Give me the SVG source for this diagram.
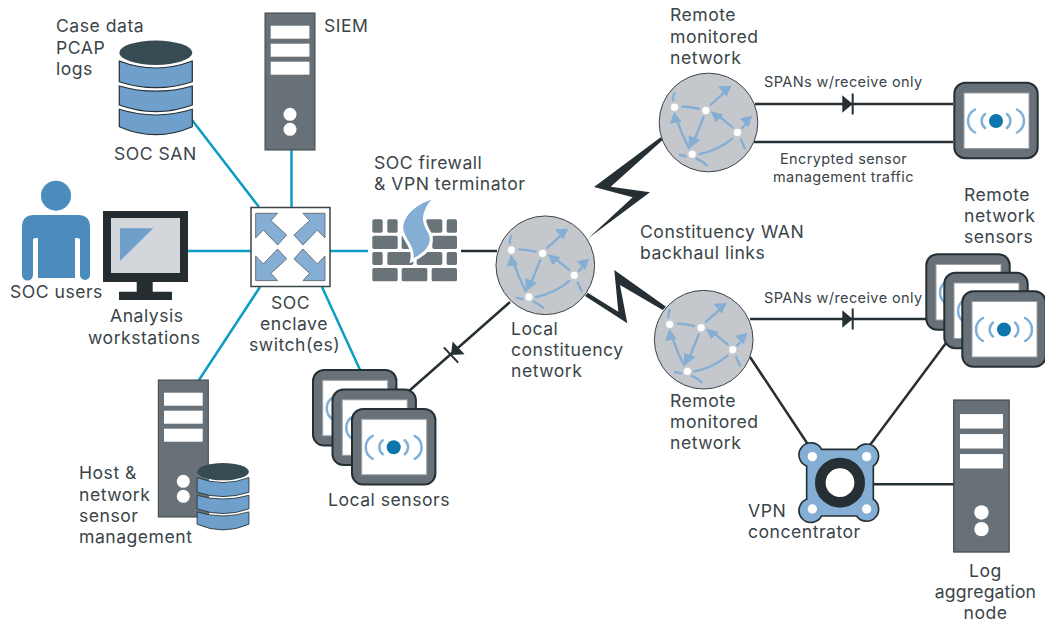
<svg xmlns="http://www.w3.org/2000/svg" width="1045" height="621" viewBox="0 0 1045 621">
<style>
text{font-family:"Inter","Liberation Sans",sans-serif;font-size:17.6px;letter-spacing:.5px;fill:#3a4449}
.s{font-size:14.500px;letter-spacing:.4px}
.blue{stroke:#0d9cc4;stroke-width:2.5;fill:none}
.dark{stroke:#263034;stroke-width:2.5;fill:none}
.bolt{fill:#263034}
.srv{fill:#687177;stroke:#3a4449;stroke-width:1}
.wh{fill:#fff}
.band{fill:#6fa0cb;stroke:#263034;stroke-width:1.2}
.arc{fill:none;stroke:#7fb0d8;stroke-width:2.5;stroke-linecap:round}
.nl{fill:none;stroke:#84aed4;stroke-width:7}
.na{fill:#84aed4}
.brick{fill:#6a7378}
.sw{fill:#84aed4;stroke:#6b7379;stroke-width:3}
</style>
<defs>
<g id="server">
<rect class="srv" width="50" height="137"/>
<rect class="wh" x="5.700" y="12.700" width="38.700" height="13"/>
<rect class="wh" x="5.700" y="30.700" width="38.700" height="13"/>
<rect class="wh" x="5.700" y="48.700" width="38.700" height="13"/>
<circle class="wh" cx="25" cy="101.300" r="6.500"/>
<circle class="wh" cx="25" cy="116.300" r="6.500"/>
</g>
<g id="db">
<path class="band" d="M-36.500 74V56.600Q0 68 36.500 56.600V74Q0 90 -36.500 74Z"/>
<path class="band" d="M-36.500 52.300V33.300Q0 43.700 36.500 33.300V52.300Q0 65.700 -36.500 52.300Z"/>
<path class="band" d="M-36.500 29V8.300Q0 22.300 36.500 8.300V29Q0 41 -36.500 29Z"/>
<ellipse cx="0" cy="0" rx="36.500" ry="12.200" fill="#364c52"/>
</g>
<g id="sensor">
<rect x="-41.700" y="-38.300" width="83.400" height="75.600" rx="11" fill="#687177" stroke="#263034" stroke-width="2"/>
<rect x="-32" y="-28" width="65" height="55.500" fill="#fff" stroke="#98a0a5" stroke-width="1"/>
<circle cx="0" cy="0" r="7" fill="#0f76ad"/>
<path class="arc" d="M-11 -7A9 9 0 0 0 -11 7M11 -7A9 9 0 0 1 11 7M-21 -11.500A13 13 0 0 0 -21 11.500M21 -11.500A13 13 0 0 1 21 11.500"/>
</g>
<g id="net" transform="scale(.3333) translate(-586 -286)">
<circle cx="586" cy="286" r="148" fill="#c4c7cb" stroke="#3a4449" stroke-width="3"/>
<g class="nl">
<path d="M485 195Q478 208 480 222"/>
<path d="M505 238Q535 238 560 246"/>
<path d="M590 235L635 195"/>
<path d="M572 268L543 340"/>
<path d="M528 365Q505 320 490 275"/>
<path d="M660 302L615 265"/>
<path d="M555 382Q615 370 660 332"/>
<path d="M685 305L705 283"/>
<path d="M682 335L696 366"/>
<path d="M497 382L520 388"/>
<path d="M548 393Q568 402 582 416"/>
</g>
<path class="na" d="M655 176L615 178L640 208Z"/>
<path class="na" d="M527 365L562 338L527 325Z"/>
<path class="na" d="M483 254L470 290L505 284Z"/>
<path class="na" d="M592 252L631 262L608 285Z"/>
<path class="na" d="M717 266L680 274L706 300Z"/>
<circle class="wh" cx="484" cy="240" r="11"/>
<circle class="wh" cx="578" cy="250" r="11"/>
<circle class="wh" cx="673" cy="316" r="11"/>
<circle class="wh" cx="537" cy="381" r="11"/>
</g>
<path id="diode" fill="#263034" d="M-10.400 -8.800L0 0L-10.400 8.800ZM-1 -10.500H1V10.500H-1Z"/>
<path id="swa" class="sw" d="M767 640L833 640L813 662L860 705L833 735L790 690L767 714Z"/>
</defs>
<g id="connectors">
<path class="blue" d="M192 120L259 207M291.500 150V207M187 251H251M330 251H368M260 287L199 380M322 287L361 372"/>
<path class="dark" d="M461 251H497M510 302L409 391M755 104H953M754 142H953M750 319H927M750 357L809 446M870 445L946 343M873 484.300H954"/>
<path id="bolt1" class="bolt" d="M660.700 137.300L594 187L632.700 197.300L588.300 238.300L650 192.300L610.700 186.700L662.700 140Z"/>
<path id="bolt2" class="bolt" d="M585 296L627.300 323.300L620 285L662.700 310L666 306.700L614.300 270L618.300 311.700L587.700 292.700Z"/>
<use href="#diode" x="852.700" y="104"/>
<use href="#diode" x="852.700" y="319"/>
<use href="#diode" transform="translate(451 355) rotate(137)"/>
</g>
<g id="san"><use href="#db" x="155.800" y="52.700"/></g>
<g id="siem"><use href="#server" x="265" y="13"/></g>
<g id="user">
<circle cx="56" cy="195.700" r="15" fill="#4b8cbc"/>
<path fill="#4b8cbc" d="M34 215H78Q90 215 90 227V275A5 5 0 0 1 80 275V240Q80 238 77 238H75V278H38V238H36Q33 238 33 240V275A5 5 0 0 1 22 275V227Q22 215 34 215Z"/>
</g>
<g id="workstation">
<rect x="103" y="211" width="85" height="71" fill="#252d31"/>
<rect x="111" y="218" width="69" height="55" fill="#d3d6da"/>
<path d="M120 228.300H153.300L120 261Z" fill="#6fa0cb"/>
<path d="M136.700 282H152.700V291.700H172V300H119V291.700H136.700Z" fill="#252d31"/>
</g>
<g id="switch">
<rect x="251" y="207.500" width="79" height="79" fill="#fff" stroke="#3a4449" stroke-width="1.500"/>
<g transform="scale(.3333)">
<use href="#swa"/>
<use href="#swa" transform="translate(1742 0) scale(-1 1)"/>
<use href="#swa" transform="translate(0 1482) scale(1 -1)"/>
<use href="#swa" transform="translate(1742 1482) scale(-1 -1)"/>
</g>
</g>
<g id="mgmt">
<use href="#server" x="158.300" y="380"/>
<g transform="translate(223 471.700) scale(.71)"><use href="#db"/></g>
</g>
<g id="firewall" transform="translate(350 170) scale(.3333)">
<rect class="brick" x="67" y="148" width="31" height="40" rx="5"/><rect class="brick" x="112" y="148" width="31" height="40" rx="5"/><rect class="brick" x="228" y="148" width="49" height="40" rx="5"/><rect class="brick" x="290" y="148" width="31" height="40" rx="5"/>
<rect class="brick" x="67" y="197" width="76" height="40" rx="5"/><rect class="brick" x="155" y="197" width="80" height="40" rx="5"/><rect class="brick" x="247" y="197" width="74" height="40" rx="5"/>
<rect class="brick" x="67" y="246" width="31" height="39" rx="5"/><rect class="brick" x="112" y="246" width="78" height="39" rx="5"/><rect class="brick" x="200" y="246" width="77" height="39" rx="5"/><rect class="brick" x="290" y="246" width="31" height="39" rx="5"/>
<rect class="brick" x="67" y="294" width="76" height="40" rx="5"/><rect class="brick" x="155" y="294" width="77" height="40" rx="5"/><rect class="brick" x="245" y="294" width="76" height="40" rx="5"/>
<path d="M258 80C205 95 160 125 155 170C152 205 195 225 185 272C225 255 255 225 240 190C225 165 205 135 258 80Z" fill="#84aed4" stroke="#fff" stroke-width="9"/>
</g>
<g id="local-net"><use href="#net" x="545.300" y="265.300"/></g>
<g id="remote-net-1"><use href="#net" x="708.500" y="122.500"/></g>
<g id="remote-net-2"><use href="#net" x="703.700" y="339.700"/></g>
<g id="local-sensors">
<use href="#sensor" x="354.700" y="408.300"/>
<use href="#sensor" x="374.200" y="427.800"/>
<use href="#sensor" x="393.700" y="447.300"/>
</g>
<g id="remote-sensor"><use href="#sensor" x="996" y="121"/></g>
<g id="remote-sensors">
<use href="#sensor" x="968" y="292.500"/>
<use href="#sensor" x="986" y="311"/>
<use href="#sensor" x="1004" y="329.500"/>
</g>
<g id="vpn" transform="translate(760 240) scale(.3333)">
<path d="M185 628H290A36 36 0 1 1 340 678V778A36 36 0 1 1 290 828H185A36 36 0 1 1 140 778V678A36 36 0 1 1 185 628Z" fill="#84aed4" stroke="#263034" stroke-width="5"/>
<circle class="wh" cx="157" cy="650" r="14"/><circle class="wh" cx="320" cy="650" r="14"/><circle class="wh" cx="157" cy="807" r="14"/><circle class="wh" cx="320" cy="807" r="14"/>
<circle cx="240" cy="728" r="59" fill="#fff" stroke="#263034" stroke-width="32"/>
</g>
<g id="log"><use href="#server" transform="translate(953.700 400) scale(1.11)"/></g>
<g id="labels">
<text x="56" y="32">Case data</text><text x="56" y="54">PCAP</text><text x="56" y="75">logs</text>
<text x="114" y="160">SOC SAN</text>
<text x="324" y="32">SIEM</text>
<text x="374" y="169">SOC firewall</text><text x="374" y="190">&amp; VPN terminator</text>
<text x="10" y="298">SOC users</text>
<text x="110" y="322">Analysis</text><text x="88" y="344">workstations</text>
<text x="271" y="309">SOC</text><text x="260" y="330">enclave</text><text x="249" y="351">switch(es)</text>
<text x="79" y="479">Host &amp;</text><text x="79" y="501">network</text><text x="79" y="522">sensor</text><text x="79" y="543">management</text>
<text x="328" y="506">Local sensors</text>
<text x="511" y="335">Local</text><text x="511" y="356">constituency</text><text x="511" y="377">network</text>
<text x="670" y="21">Remote</text><text x="670" y="43">monitored</text><text x="670" y="64">network</text>
<text x="640" y="238">Constituency WAN</text><text x="640" y="259">backhaul links</text>
<text x="670" y="407">Remote</text><text x="670" y="428">monitored</text><text x="670" y="449">network</text>
<text class="s" x="764" y="87">SPANs w/receive only</text>
<text class="s" x="764" y="303">SPANs w/receive only</text>
<text class="s" x="843.500" y="164" text-anchor="middle">Encrypted sensor</text><text class="s" x="843.500" y="182" text-anchor="middle">management traffic</text>
<text x="964" y="201">Remote</text><text x="964" y="222">network</text><text x="964" y="243">sensors</text>
<text x="748" y="517">VPN</text><text x="748" y="538">concentrator</text>
<text x="985.500" y="577" text-anchor="middle">Log</text><text x="985.500" y="598" text-anchor="middle" style="letter-spacing:.15px">aggregation</text><text x="985.500" y="619" text-anchor="middle">node</text>
</g>
</svg>
